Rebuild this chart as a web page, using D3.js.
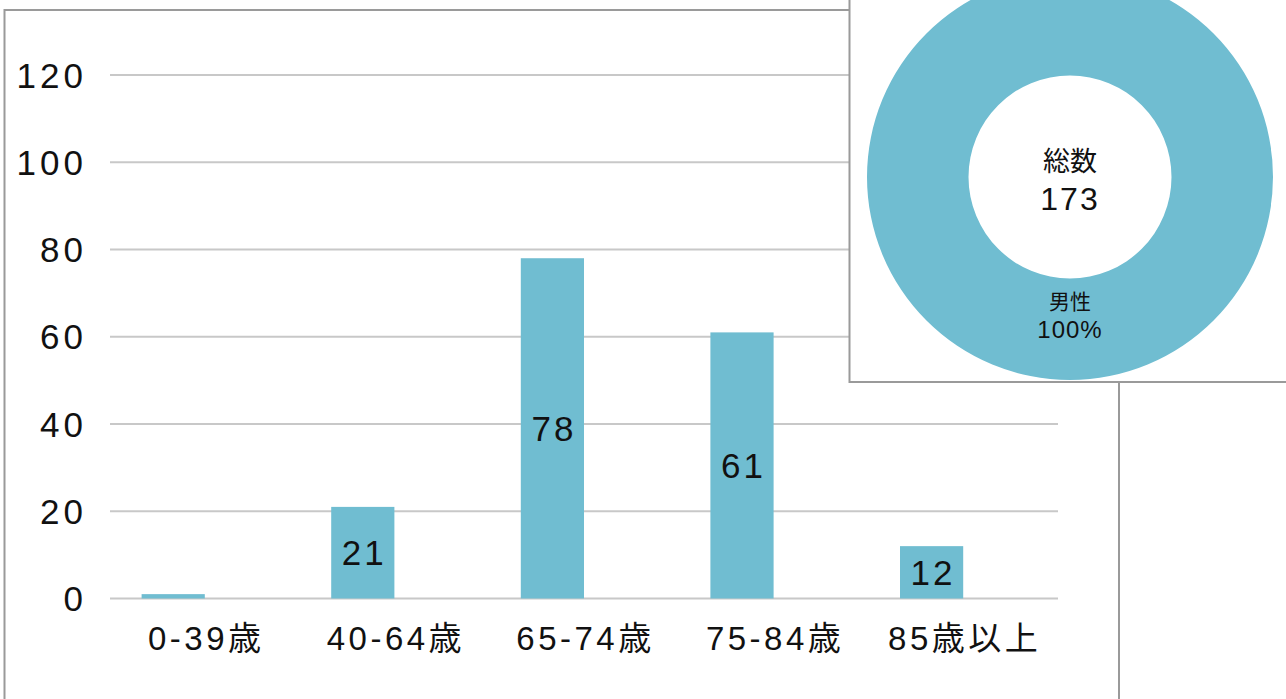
<!DOCTYPE html>
<html>
<head>
<meta charset="utf-8">
<script src="https://cdn.jsdelivr.net/npm/d3@7"></script>
<style>
  body { margin: 0; background: #fff; overflow: hidden; }
  svg { display: block; }
  text { font-family: "Liberation Sans", "Noto Sans CJK JP", sans-serif; fill: #111; }
</style>
</head>
<body>
<script>
// data
var ageGroups = ["0-39歳", "40-64歳", "65-74歳", "75-84歳", "85歳以上"];
var series = ["男性", "女性"];
var maleCounts = [1, 21, 78, 61, 12];
var femaleCounts = [0, 0, 0, 0, 0];
var yTicks = [0, 20, 40, 60, 80, 100, 120];

var width = 1286, height = 699;
var barColor = "#70bdd1", frameColor = "#9a9a9a", gridColor = "#c8c8c8";

var svg = d3.select("body").append("svg")
    .attr("width", width)
    .attr("height", height);

// outer frame of the bar chart
svg.append("rect")
    .attr("x", 4.5).attr("y", 10)
    .attr("width", 1114.5).attr("height", 720)
    .attr("fill", "#fff")
    .attr("stroke", frameColor)
    .attr("stroke-width", 2);

var x = d3.scaleBand()
    .domain(ageGroups)
    .range([110, 1058])
    .padding(0);

var xs = d3.scaleBand()
    .domain(series)
    .range([0, x.bandwidth()])
    .paddingInner(0)
    .paddingOuter(0.5);

var y = d3.scaleLinear()
    .domain([0, 120])
    .range([598.5, 75]);

// gridlines
svg.append("g")
    .selectAll("line")
    .data(yTicks)
    .enter().append("line")
    .attr("x1", 110).attr("x2", 1058)
    .attr("y1", function (d) { return y(d); })
    .attr("y2", function (d) { return y(d); })
    .attr("stroke", gridColor)
    .attr("stroke-width", 2);

// y labels
svg.append("g")
    .selectAll("text")
    .data(yTicks)
    .enter().append("text")
    .attr("x", 87)
    .attr("y", function (d) { return y(d); })
    .attr("dy", "0.36em")
    .attr("text-anchor", "end")
    .style("font-size", "35px")
    .style("letter-spacing", "4px")
    .text(function (d) { return d; });

// bars
var rows = ageGroups.map(function (g, i) {
    return { group: g, values: [maleCounts[i], femaleCounts[i]] };
});

var groups = svg.append("g")
    .selectAll("g")
    .data(rows)
    .enter().append("g")
    .attr("transform", function (d) { return "translate(" + x(d.group) + ",0)"; });

groups.selectAll("rect")
    .data(function (d) { return d.values.map(function (v, j) { return { s: series[j], v: v }; }); })
    .enter().append("rect")
    .attr("x", function (d) { return xs(d.s); })
    .attr("width", xs.bandwidth())
    .attr("y", function (d) { return y(d.v); })
    .attr("height", function (d) { return y(0) - y(d.v); })
    .attr("fill", barColor);

// value labels inside bars
groups.selectAll("text")
    .data(function (d) { return [{ s: series[0], v: d.values[0] }]; })
    .enter().append("text")
    .filter(function (d) { return d.v > 2; })
    .attr("x", function (d) { return xs(d.s) + xs.bandwidth() / 2 + 1.5; })
    .attr("y", function (d) { return (y(d.v) + y(0)) / 2; })
    .attr("dy", "0.36em")
    .attr("text-anchor", "middle")
    .style("font-size", "35px")
    .style("letter-spacing", "3px")
    .text(function (d) { return d.v; });

// x labels
svg.append("g")
    .selectAll("text")
    .data(ageGroups)
    .enter().append("text")
    .attr("x", function (d) { return x(d) + x.bandwidth() / 2 + 1.5; })
    .attr("y", 638)
    .attr("dy", "0.36em")
    .attr("text-anchor", "middle")
    .style("font-size", "33px")
    .style("letter-spacing", "3.5px")
    .text(function (d) { return d; });

// donut box
svg.append("rect")
    .attr("x", 849.5).attr("y", -20)
    .attr("width", 500).attr("height", 402)
    .attr("fill", "#fff")
    .attr("stroke", frameColor)
    .attr("stroke-width", 2);

var total = d3.sum(maleCounts) + d3.sum(femaleCounts);
var pieData = d3.pie().sort(null)([d3.sum(maleCounts), d3.sum(femaleCounts)]);
var arc = d3.arc().innerRadius(101.5).outerRadius(203);

var donut = svg.append("g")
    .attr("transform", "translate(1070,177)");

donut.selectAll("path")
    .data(pieData)
    .enter().append("path")
    .attr("d", arc)
    .attr("fill", function (d, i) { return i === 0 ? barColor : "#e8a0a0"; });

donut.append("text")
    .attr("y", -16)
    .attr("text-anchor", "middle")
    .attr("dy", "0.36em")
    .style("font-size", "27px")
    .text("総数");

donut.append("text")
    .attr("y", 21)
    .attr("text-anchor", "middle")
    .attr("dy", "0.36em")
    .style("font-size", "32px")
    .style("letter-spacing", "2px")
    .text(total);

// slice label
var maleSlice = pieData[0];
var c = arc.centroid(maleSlice);
donut.append("text")
    .attr("x", c[0])
    .attr("y", c[1] - 28)
    .attr("dy", "0.36em")
    .attr("text-anchor", "middle")
    .style("font-size", "21px")
    .text(series[0]);

donut.append("text")
    .attr("x", c[0])
    .attr("y", c[1])
    .attr("dy", "0.36em")
    .attr("text-anchor", "middle")
    .style("font-size", "24px")
    .style("letter-spacing", "1px")
    .text(Math.round(maleSlice.value / total * 100) + "%");
</script>
</body>
</html>
